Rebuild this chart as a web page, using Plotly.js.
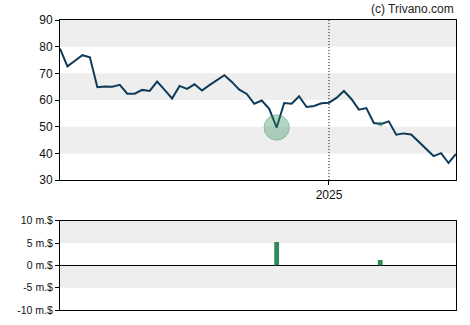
<!DOCTYPE html>
<html>
<head>
<meta charset="utf-8">
<script src="https://cdn.plot.ly/plotly-3.0.1.min.js"></script>
<style>html,body{margin:0;padding:0;background:#fff;}#chart{width:470px;height:325px;}</style>
</head>
<body>
<div id="chart"></div>
<script>
var dates = [
  "2024-04-24","2024-05-01","2024-05-08","2024-05-15","2024-05-22","2024-05-29",
  "2024-06-05","2024-06-12","2024-06-19","2024-06-26","2024-07-03","2024-07-10",
  "2024-07-17","2024-07-24","2024-07-31","2024-08-07","2024-08-14","2024-08-21",
  "2024-08-28","2024-09-04","2024-09-11","2024-09-18","2024-09-25","2024-10-02",
  "2024-10-09","2024-10-16","2024-10-23","2024-10-30","2024-11-06","2024-11-13",
  "2024-11-20","2024-11-27","2024-12-04","2024-12-11","2024-12-18","2024-12-25",
  "2025-01-01","2025-01-08","2025-01-15","2025-01-22","2025-01-29","2025-02-05",
  "2025-02-12","2025-02-19","2025-02-26","2025-03-05","2025-03-12","2025-03-19",
  "2025-03-26","2025-04-02","2025-04-09","2025-04-16","2025-04-23","2025-04-30"
];
var prices = [
  79.3, 72.6, 74.7, 76.8, 76.0, 64.8,
  65.1, 65.0, 65.7, 62.4, 62.4, 63.8,
  63.4, 66.9, 63.8, 60.6, 65.3, 64.2,
  65.9, 63.6, 65.6, 67.5, 69.3, 66.8,
  63.9, 62.3, 58.6, 59.8, 56.7, 49.7,
  58.9, 58.6, 61.4, 57.4, 57.8, 58.8,
  59.0, 60.8, 63.4, 60.4, 56.4, 57.0,
  51.4, 51.0, 52.0, 47.0, 47.5, 47.1,
  44.5, 41.7, 39.0, 40.1, 36.4, 39.8
];
var tradeDates = ["2024-11-13", "2025-02-18"];
var tradeValues = [5.2, 1.2];
var tradePrices = [49.7, 51.0];
var yearTickVals = ["2025-01-01"];
var yearTickText = ["2025"];
var priceTicks = [30, 40, 50, 60, 70, 80, 90];
var volTicks = [-10, -5, 0, 5, 10];
var volTickText = ["-10 m.$", "-5 m.$", "0 m.$", "5 m.$", "10 m.$"];

var green = "#2e8b57";
var traces = [
  {x: dates, y: prices, type: "scatter", mode: "lines", xaxis: "x", yaxis: "y",
   line: {color: "#0f3b5a", width: 2}, hoverinfo: "skip"},
  {x: tradeDates, y: tradePrices, type: "scatter", mode: "markers", xaxis: "x", yaxis: "y",
   marker: {size: tradeValues.map(function(v){return Math.pow(v, 1.2) * 3.5;}), color: "rgba(46,139,87,0.5)",
            line: {color: "rgba(46,139,87,0.6)", width: 1}}, hoverinfo: "skip"},
  {x: tradeDates, y: tradeValues, type: "bar", xaxis: "x2", yaxis: "y2",
   width: 4.5 * 86400000, marker: {color: green}, hoverinfo: "skip"}
];

var bandColor = "#eeeeee";
var shapes = [
  {type: "rect", xref: "x domain", yref: "y", x0: 0, x1: 1, y0: 80, y1: 90, fillcolor: bandColor, line: {width: 0}, layer: "below"},
  {type: "rect", xref: "x domain", yref: "y", x0: 0, x1: 1, y0: 60, y1: 70, fillcolor: bandColor, line: {width: 0}, layer: "below"},
  {type: "rect", xref: "x domain", yref: "y", x0: 0, x1: 1, y0: 40, y1: 50, fillcolor: bandColor, line: {width: 0}, layer: "below"},
  {type: "rect", xref: "x2 domain", yref: "y2", x0: 0, x1: 1, y0: 5, y1: 10, fillcolor: bandColor, line: {width: 0}, layer: "below"},
  {type: "rect", xref: "x2 domain", yref: "y2", x0: 0, x1: 1, y0: -5, y1: 0, fillcolor: bandColor, line: {width: 0}, layer: "below"},
  {type: "line", xref: "x", yref: "y domain", x0: yearTickVals[0], x1: yearTickVals[0], y0: 0, y1: 1,
   line: {color: "#000", width: 1, dash: "1px,2px"}, layer: "above"}
];

var range = [dates[0], dates[dates.length - 1]];
var layout = {
  width: 470, height: 325,
  margin: {l: 60, r: 14, t: 20, b: 15},
  paper_bgcolor: "#fff", plot_bgcolor: "#fff",
  showlegend: false,
  font: {family: "Liberation Sans, Arial, sans-serif", size: 12, color: "#111"},
  xaxis: {type: "date", range: range, domain: [0, 1], anchor: "y",
          tickvals: yearTickVals, ticktext: yearTickText, ticks: "outside", ticklen: 4,
          tickcolor: "#000", showgrid: false, zeroline: false,
          showline: true, mirror: true, linecolor: "#000", linewidth: 1,
          tickfont: {size: 12, color: "#111"}},
  yaxis: {range: [30, 90], domain: [0.448, 1], anchor: "x",
          tickvals: priceTicks, ticks: "outside", ticklen: 4, tickcolor: "#000",
          showgrid: false, zeroline: false, showline: true, mirror: true,
          linecolor: "#000", linewidth: 1, tickfont: {size: 12, color: "#111"}},
  xaxis2: {type: "date", range: range, domain: [0, 1], anchor: "y2",
           showticklabels: false, ticks: "", showgrid: false, zeroline: false,
           showline: true, mirror: true, linecolor: "#000", linewidth: 1},
  yaxis2: {range: [-10, 10], domain: [0, 0.308], anchor: "x2",
           tickvals: volTicks, ticktext: volTickText, ticks: "outside", ticklen: 4,
           tickcolor: "#000", showgrid: false, zeroline: true, zerolinecolor: "#000",
           zerolinewidth: 1, showline: true, mirror: true, linecolor: "#000", linewidth: 1,
           tickfont: {size: 10.5, color: "#111"}},
  shapes: shapes,
  annotations: [
    {text: "(c) Trivano.com", xref: "paper", yref: "paper", x: 1, y: 1, xanchor: "right",
     yanchor: "bottom", yshift: 2, showarrow: false, font: {size: 12, color: "#222"}}
  ]
};

Plotly.newPlot("chart", traces, layout, {displayModeBar: false, staticPlot: true});
</script>
</body>
</html>
